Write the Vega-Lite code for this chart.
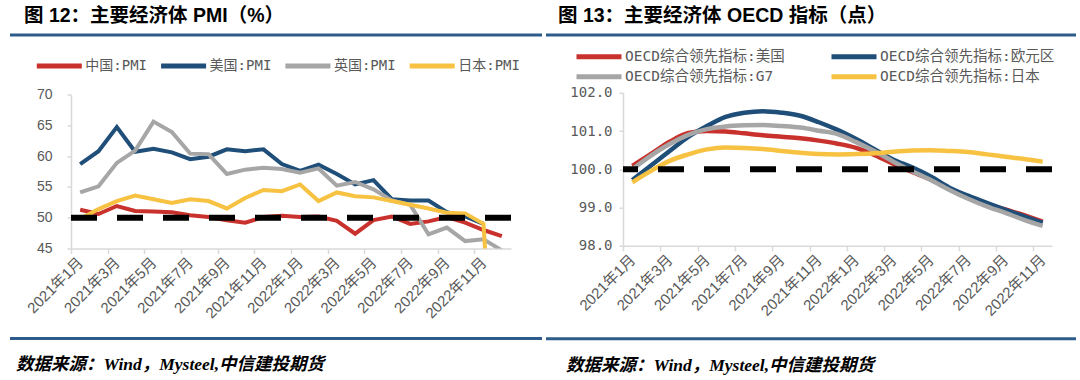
{
  "$schema": "https://vega.github.io/schema/vega-lite/v6.json",
  "background": "white",
  "padding": {"left": 8, "top": 6, "right": 0, "bottom": 0},
  "config": {
    "view": {"stroke": null},
    "font": "Liberation Sans, Noto Sans CJK SC",
    "axis": {"domainColor": "#D9D9D9", "tickColor": "#D9D9D9", "labelColor": "#595959", "grid": false, "domainWidth": 1.5, "tickWidth": 1.5, "title": null, "labelOverlap": false},
    "legend": {"labelLimit": 400},
    "title": {"color": "#000000"}
  },
  "datasets": {
    "pmi": [
      {"m":"2021年1月","s":"中国:PMI","v":51.3},{"m":"2021年2月","s":"中国:PMI","v":50.6},{"m":"2021年3月","s":"中国:PMI","v":51.9},{"m":"2021年4月","s":"中国:PMI","v":51.1},{"m":"2021年5月","s":"中国:PMI","v":51.0},{"m":"2021年6月","s":"中国:PMI","v":50.9},{"m":"2021年7月","s":"中国:PMI","v":50.4},{"m":"2021年8月","s":"中国:PMI","v":50.1},{"m":"2021年9月","s":"中国:PMI","v":49.6},{"m":"2021年10月","s":"中国:PMI","v":49.2},{"m":"2021年11月","s":"中国:PMI","v":50.1},{"m":"2021年12月","s":"中国:PMI","v":50.3},
      {"m":"2022年1月","s":"中国:PMI","v":50.1},{"m":"2022年2月","s":"中国:PMI","v":50.2},{"m":"2022年3月","s":"中国:PMI","v":49.5},{"m":"2022年4月","s":"中国:PMI","v":47.4},{"m":"2022年5月","s":"中国:PMI","v":49.6},{"m":"2022年6月","s":"中国:PMI","v":50.2},{"m":"2022年7月","s":"中国:PMI","v":49.0},{"m":"2022年8月","s":"中国:PMI","v":49.4},{"m":"2022年9月","s":"中国:PMI","v":50.1},{"m":"2022年10月","s":"中国:PMI","v":49.2},{"m":"2022年11月","s":"中国:PMI","v":48.0},{"m":"2022年12月","s":"中国:PMI","v":47.0},
      {"m":"2021年1月","s":"美国:PMI","v":58.7},{"m":"2021年2月","s":"美国:PMI","v":60.8},{"m":"2021年3月","s":"美国:PMI","v":64.7},{"m":"2021年4月","s":"美国:PMI","v":60.7},{"m":"2021年5月","s":"美国:PMI","v":61.2},{"m":"2021年6月","s":"美国:PMI","v":60.6},{"m":"2021年7月","s":"美国:PMI","v":59.5},{"m":"2021年8月","s":"美国:PMI","v":59.9},{"m":"2021年9月","s":"美国:PMI","v":61.1},{"m":"2021年10月","s":"美国:PMI","v":60.8},{"m":"2021年11月","s":"美国:PMI","v":61.1},{"m":"2021年12月","s":"美国:PMI","v":58.7},
      {"m":"2022年1月","s":"美国:PMI","v":57.6},{"m":"2022年2月","s":"美国:PMI","v":58.6},{"m":"2022年3月","s":"美国:PMI","v":57.1},{"m":"2022年4月","s":"美国:PMI","v":55.4},{"m":"2022年5月","s":"美国:PMI","v":56.1},{"m":"2022年6月","s":"美国:PMI","v":53.0},{"m":"2022年7月","s":"美国:PMI","v":52.8},{"m":"2022年8月","s":"美国:PMI","v":52.8},{"m":"2022年9月","s":"美国:PMI","v":50.9},{"m":"2022年10月","s":"美国:PMI","v":50.2},{"m":"2022年11月","s":"美国:PMI","v":49.0},
      {"m":"2021年1月","s":"英国:PMI","v":54.1},{"m":"2021年2月","s":"英国:PMI","v":55.1},{"m":"2021年3月","s":"英国:PMI","v":58.9},{"m":"2021年4月","s":"英国:PMI","v":60.9},{"m":"2021年5月","s":"英国:PMI","v":65.6},{"m":"2021年6月","s":"英国:PMI","v":63.9},{"m":"2021年7月","s":"英国:PMI","v":60.4},{"m":"2021年8月","s":"英国:PMI","v":60.3},{"m":"2021年9月","s":"英国:PMI","v":57.1},{"m":"2021年10月","s":"英国:PMI","v":57.8},{"m":"2021年11月","s":"英国:PMI","v":58.1},{"m":"2021年12月","s":"英国:PMI","v":57.9},
      {"m":"2022年1月","s":"英国:PMI","v":57.3},{"m":"2022年2月","s":"英国:PMI","v":58.0},{"m":"2022年3月","s":"英国:PMI","v":55.2},{"m":"2022年4月","s":"英国:PMI","v":55.8},{"m":"2022年5月","s":"英国:PMI","v":54.6},{"m":"2022年6月","s":"英国:PMI","v":52.8},{"m":"2022年7月","s":"英国:PMI","v":52.1},{"m":"2022年8月","s":"英国:PMI","v":47.3},{"m":"2022年9月","s":"英国:PMI","v":48.4},{"m":"2022年10月","s":"英国:PMI","v":46.2},{"m":"2022年11月","s":"英国:PMI","v":46.5},{"m":"2022年12月","s":"英国:PMI","v":44.7},
      {"m":"2021年1月","s":"日本:PMI","v":49.8},{"m":"2021年2月","s":"日本:PMI","v":51.4},{"m":"2021年3月","s":"日本:PMI","v":52.7},{"m":"2021年4月","s":"日本:PMI","v":53.6},{"m":"2021年5月","s":"日本:PMI","v":53.0},{"m":"2021年6月","s":"日本:PMI","v":52.4},{"m":"2021年7月","s":"日本:PMI","v":53.0},{"m":"2021年8月","s":"日本:PMI","v":52.7},{"m":"2021年9月","s":"日本:PMI","v":51.5},{"m":"2021年10月","s":"日本:PMI","v":53.2},{"m":"2021年11月","s":"日本:PMI","v":54.5},{"m":"2021年12月","s":"日本:PMI","v":54.3},
      {"m":"2022年1月","s":"日本:PMI","v":55.4},{"m":"2022年2月","s":"日本:PMI","v":52.7},{"m":"2022年3月","s":"日本:PMI","v":54.1},{"m":"2022年4月","s":"日本:PMI","v":53.5},{"m":"2022年5月","s":"日本:PMI","v":53.3},{"m":"2022年6月","s":"日本:PMI","v":52.7},{"m":"2022年7月","s":"日本:PMI","v":52.1},{"m":"2022年8月","s":"日本:PMI","v":51.5},{"m":"2022年9月","s":"日本:PMI","v":50.8},{"m":"2022年10月","s":"日本:PMI","v":50.7},{"m":"2022年11月","s":"日本:PMI","v":49.0},{"m":"2022年12月","s":"日本:PMI","v":0}
    ],
    "oecd": [
      {"m":"2021年1月","s":"OECD综合领先指标:美国","v":100.09},{"m":"2021年2月","s":"OECD综合领先指标:美国","v":100.40},{"m":"2021年3月","s":"OECD综合领先指标:美国","v":100.72},{"m":"2021年4月","s":"OECD综合领先指标:美国","v":100.95},{"m":"2021年5月","s":"OECD综合领先指标:美国","v":101.00},{"m":"2021年6月","s":"OECD综合领先指标:美国","v":100.99},{"m":"2021年7月","s":"OECD综合领先指标:美国","v":100.94},{"m":"2021年8月","s":"OECD综合领先指标:美国","v":100.89},{"m":"2021年9月","s":"OECD综合领先指标:美国","v":100.85},{"m":"2021年10月","s":"OECD综合领先指标:美国","v":100.81},{"m":"2021年11月","s":"OECD综合领先指标:美国","v":100.75},{"m":"2021年12月","s":"OECD综合领先指标:美国","v":100.67},
      {"m":"2022年1月","s":"OECD综合领先指标:美国","v":100.56},{"m":"2022年2月","s":"OECD综合领先指标:美国","v":100.37},{"m":"2022年3月","s":"OECD综合领先指标:美国","v":100.14},{"m":"2022年4月","s":"OECD综合领先指标:美国","v":99.93},{"m":"2022年5月","s":"OECD综合领先指标:美国","v":99.73},{"m":"2022年6月","s":"OECD综合领先指标:美国","v":99.50},{"m":"2022年7月","s":"OECD综合领先指标:美国","v":99.29},{"m":"2022年8月","s":"OECD综合领先指标:美国","v":99.10},{"m":"2022年9月","s":"OECD综合领先指标:美国","v":98.95},{"m":"2022年10月","s":"OECD综合领先指标:美国","v":98.80},{"m":"2022年11月","s":"OECD综合领先指标:美国","v":98.63},
      {"m":"2021年1月","s":"OECD综合领先指标:欧元区","v":99.72},{"m":"2021年2月","s":"OECD综合领先指标:欧元区","v":100.10},{"m":"2021年3月","s":"OECD综合领先指标:欧元区","v":100.48},{"m":"2021年4月","s":"OECD综合领先指标:欧元区","v":100.85},{"m":"2021年5月","s":"OECD综合领先指标:欧元区","v":101.13},{"m":"2021年6月","s":"OECD综合领先指标:欧元区","v":101.37},{"m":"2021年7月","s":"OECD综合领先指标:欧元区","v":101.48},{"m":"2021年8月","s":"OECD综合领先指标:欧元区","v":101.52},{"m":"2021年9月","s":"OECD综合领先指标:欧元区","v":101.48},{"m":"2021年10月","s":"OECD综合领先指标:欧元区","v":101.40},{"m":"2021年11月","s":"OECD综合领先指标:欧元区","v":101.23},{"m":"2021年12月","s":"OECD综合领先指标:欧元区","v":101.03},
      {"m":"2022年1月","s":"OECD综合领先指标:欧元区","v":100.79},{"m":"2022年2月","s":"OECD综合领先指标:欧元区","v":100.52},{"m":"2022年3月","s":"OECD综合领先指标:欧元区","v":100.25},{"m":"2022年4月","s":"OECD综合领先指标:欧元区","v":100.05},{"m":"2022年5月","s":"OECD综合领先指标:欧元区","v":99.81},{"m":"2022年6月","s":"OECD综合领先指标:欧元区","v":99.52},{"m":"2022年7月","s":"OECD综合领先指标:欧元区","v":99.31},{"m":"2022年8月","s":"OECD综合领先指标:欧元区","v":99.12},{"m":"2022年9月","s":"OECD综合领先指标:欧元区","v":98.94},{"m":"2022年10月","s":"OECD综合领先指标:欧元区","v":98.77},{"m":"2022年11月","s":"OECD综合领先指标:欧元区","v":98.60},
      {"m":"2021年1月","s":"OECD综合领先指标:G7","v":100.00},{"m":"2021年2月","s":"OECD综合领先指标:G7","v":100.36},{"m":"2021年3月","s":"OECD综合领先指标:G7","v":100.66},{"m":"2021年4月","s":"OECD综合领先指标:G7","v":100.90},{"m":"2021年5月","s":"OECD综合领先指标:G7","v":101.05},{"m":"2021年6月","s":"OECD综合领先指标:G7","v":101.12},{"m":"2021年7月","s":"OECD综合领先指标:G7","v":101.15},{"m":"2021年8月","s":"OECD综合领先指标:G7","v":101.16},{"m":"2021年9月","s":"OECD综合领先指标:G7","v":101.13},{"m":"2021年10月","s":"OECD综合领先指标:G7","v":101.09},{"m":"2021年11月","s":"OECD综合领先指标:G7","v":101.01},{"m":"2021年12月","s":"OECD综合领先指标:G7","v":100.92},
      {"m":"2022年1月","s":"OECD综合领先指标:G7","v":100.71},{"m":"2022年2月","s":"OECD综合领先指标:G7","v":100.47},{"m":"2022年3月","s":"OECD综合领先指标:G7","v":100.20},{"m":"2022年4月","s":"OECD综合领先指标:G7","v":99.95},{"m":"2022年5月","s":"OECD综合领先指标:G7","v":99.72},{"m":"2022年6月","s":"OECD综合领先指标:G7","v":99.46},{"m":"2022年7月","s":"OECD综合领先指标:G7","v":99.23},{"m":"2022年8月","s":"OECD综合领先指标:G7","v":99.03},{"m":"2022年9月","s":"OECD综合领先指标:G7","v":98.86},{"m":"2022年10月","s":"OECD综合领先指标:G7","v":98.68},{"m":"2022年11月","s":"OECD综合领先指标:G7","v":98.52},
      {"m":"2021年1月","s":"OECD综合领先指标:日本","v":99.66},{"m":"2021年2月","s":"OECD综合领先指标:日本","v":99.96},{"m":"2021年3月","s":"OECD综合领先指标:日本","v":100.22},{"m":"2021年4月","s":"OECD综合领先指标:日本","v":100.39},{"m":"2021年5月","s":"OECD综合领先指标:日本","v":100.52},{"m":"2021年6月","s":"OECD综合领先指标:日本","v":100.57},{"m":"2021年7月","s":"OECD综合领先指标:日本","v":100.56},{"m":"2021年8月","s":"OECD综合领先指标:日本","v":100.53},{"m":"2021年9月","s":"OECD综合领先指标:日本","v":100.48},{"m":"2021年10月","s":"OECD综合领先指标:日本","v":100.43},{"m":"2021年11月","s":"OECD综合领先指标:日本","v":100.40},{"m":"2021年12月","s":"OECD综合领先指标:日本","v":100.39},
      {"m":"2022年1月","s":"OECD综合领先指标:日本","v":100.40},{"m":"2022年2月","s":"OECD综合领先指标:日本","v":100.42},{"m":"2022年3月","s":"OECD综合领先指标:日本","v":100.46},{"m":"2022年4月","s":"OECD综合领先指标:日本","v":100.49},{"m":"2022年5月","s":"OECD综合领先指标:日本","v":100.50},{"m":"2022年6月","s":"OECD综合领先指标:日本","v":100.48},{"m":"2022年7月","s":"OECD综合领先指标:日本","v":100.45},{"m":"2022年8月","s":"OECD综合领先指标:日本","v":100.39},{"m":"2022年9月","s":"OECD综合领先指标:日本","v":100.33},{"m":"2022年10月","s":"OECD综合领先指标:日本","v":100.27},{"m":"2022年11月","s":"OECD综合领先指标:日本","v":100.20}
    ]
  },
  "spacing": 0,
  "resolve": {"scale": {"color": "independent"}},
  "hconcat": [
    {
      "spacing": 18.5,
      "resolve": {"scale": {"color": "independent"}},
      "vconcat": [
        {
          "width": 532, "height": 1,
          "title": {"text": "图 12：主要经济体 PMI（%）", "anchor": "start", "frame": "group", "fontSize": 19.5, "fontWeight": "bold", "offset": 7, "dx": 14},
          "data": {"values": [{}]},
          "mark": {"type": "rule", "color": "#2E5C8A", "strokeWidth": 3},
          "encoding": {"y": {"datum": 0, "type": "quantitative", "scale": {"domain": [0, 1]}, "axis": null}}
        },
        {
          "spacing": 15,
          "resolve": {"scale": {"color": "independent"}},
          "vconcat": [
            {
              "spacing": 0,
              "resolve": {"scale": {"color": "independent"}},
              "hconcat": [
                {"width": 13.7, "height": 154, "data": {"values": []}, "mark": "point"},
                {
                  "width": 440, "height": 154,
                  "layer": [
                    {
                      "data": {"name": "pmi"},
                      "mark": {"type": "line", "strokeWidth": 4, "clip": true},
                      "encoding": {
                        "x": {"field": "m", "type": "ordinal", "sort": null, "scale": {"type": "point", "padding": 0.5},
                          "axis": {"values": ["2021年1月","2021年3月","2021年5月","2021年7月","2021年9月","2021年11月","2022年1月","2022年3月","2022年5月","2022年7月","2022年9月","2022年11月"],
                            "labelAngle": -45, "labelAlign": "right", "labelBaseline": "middle", "tickOffset": -9.17, "labelOffset": 9.17, "tickSize": 5, "labelPadding": 6, "labelFontSize": 15, "labelFont": "Liberation Sans, Noto Sans CJK SC"}},
                        "y": {"field": "v", "type": "quantitative", "scale": {"domain": [45, 70], "nice": false, "zero": false},
                          "axis": {"values": [45, 50, 55, 60, 65, 70], "tickCount": 10, "labelOverlap": false, "tickSize": 4, "labelPadding": 15, "minExtent": 40, "labelFontSize": 14}},
                        "color": {"field": "s", "type": "nominal",
                          "scale": {"domain": ["中国:PMI", "美国:PMI", "英国:PMI", "日本:PMI"], "range": ["#C8312C", "#1F4E79", "#A6A6A6", "#F7C242"]},
                          "legend": {"orient": "none", "legendX": -21.7, "legendY": -38.6, "direction": "horizontal", "columns": 4, "title": null, "symbolType": "M-3,0H3", "symbolSize": 225, "symbolStrokeWidth": 5, "labelFont": "DejaVu Sans Mono, Noto Sans CJK SC", "labelFontSize": 14, "labelColor": "#595959", "columnPadding": 3.3, "labelOffset": 16, "padding": 0}}
                      }
                    },
                    {
                      "data": {"values": [{}]},
                      "mark": {"type": "rule", "color": "#000000", "strokeWidth": 6, "strokeDash": [26, 20]},
                      "encoding": {"y": {"datum": 50}}
                    }
                  ]
                }
              ]
            },
            {
              "width": 532, "height": 1,
              "title": {"text": "数据来源：Wind，Mysteel,中信建投期货", "orient": "bottom", "anchor": "start", "frame": "group", "font": "Liberation Serif, Noto Sans CJK SC", "fontSize": 17.5, "fontStyle": "italic", "fontWeight": "bold", "offset": 16, "dx": 6},
              "data": {"values": [{}]},
              "mark": {"type": "rule", "color": "#2E5C8A", "strokeWidth": 3},
              "encoding": {"y": {"datum": 1, "type": "quantitative", "scale": {"domain": [0, 1]}, "axis": null}}
            }
          ]
        }
      ]
    },
    {
      "spacing": 9.8,
      "resolve": {"scale": {"color": "independent"}},
      "vconcat": [
        {
          "width": 530, "height": 1,
          "title": {"text": "图 13：主要经济体 OECD 指标（点）", "anchor": "start", "frame": "group", "fontSize": 19.5, "fontWeight": "bold", "offset": 7, "dx": 12},
          "data": {"values": [{}]},
          "mark": {"type": "rule", "color": "#2E5C8A", "strokeWidth": 3},
          "encoding": {"y": {"datum": 0, "type": "quantitative", "scale": {"domain": [0, 1]}, "axis": null}}
        },
        {
          "spacing": 18,
          "resolve": {"scale": {"color": "independent"}},
          "vconcat": [
            {
              "spacing": 0,
              "resolve": {"scale": {"color": "independent"}},
              "hconcat": [
                {"width": 16.5, "height": 153, "data": {"values": []}, "mark": "point"},
                {
                  "width": 429, "height": 153,
                  "layer": [
                    {
                      "data": {"name": "oecd"},
                      "mark": {"type": "line", "strokeWidth": 4.5, "interpolate": "monotone", "clip": true},
                      "encoding": {
                        "x": {"field": "m", "type": "ordinal", "sort": null, "scale": {"type": "point", "padding": 0.5},
                          "axis": {"values": ["2021年1月","2021年3月","2021年5月","2021年7月","2021年9月","2021年11月","2022年1月","2022年3月","2022年5月","2022年7月","2022年9月","2022年11月"],
                            "labelAngle": -45, "labelAlign": "right", "labelBaseline": "middle", "tickOffset": -9.33, "labelOffset": 9.33, "tickSize": 5, "labelPadding": 6, "labelFontSize": 15, "labelFont": "Liberation Sans, Noto Sans CJK SC"}},
                        "y": {"field": "v", "type": "quantitative", "scale": {"domain": [98, 102], "nice": false, "zero": false},
                          "axis": {"values": [98, 99, 100, 101, 102], "tickCount": 10, "labelOverlap": false, "format": ".1f", "tickSize": 4, "labelPadding": 7, "minExtent": 60, "labelFontSize": 14, "labelFont": "DejaVu Sans Mono"}},
                        "color": {"field": "s", "type": "nominal",
                          "scale": {"domain": ["OECD综合领先指标:美国", "OECD综合领先指标:欧元区", "OECD综合领先指标:G7", "OECD综合领先指标:日本"], "range": ["#C8312C", "#1F4E79", "#A6A6A6", "#F7C242"]},
                          "legend": {"orient": "none", "legendX": -34, "legendY": -46, "direction": "horizontal", "columns": 2, "title": null, "symbolType": "M-3,0H3", "symbolSize": 225, "symbolStrokeWidth": 5, "labelFont": "DejaVu Sans Mono, Noto Sans CJK SC", "labelFontSize": 14.5, "labelColor": "#595959", "columnPadding": 36, "rowPadding": 0, "labelOffset": 16, "padding": 0}}
                      }
                    },
                    {
                      "data": {"values": [{}]},
                      "mark": {"type": "rule", "color": "#000000", "strokeWidth": 6, "strokeDash": [26, 20]},
                      "encoding": {"y": {"datum": 100}}
                    }
                  ]
                }
              ]
            },
            {
              "width": 530, "height": 1,
              "title": {"text": "数据来源：Wind，Mysteel,中信建投期货", "orient": "bottom", "anchor": "start", "frame": "group", "font": "Liberation Serif, Noto Sans CJK SC", "fontSize": 17.5, "fontStyle": "italic", "fontWeight": "bold", "offset": 17, "dx": 20},
              "data": {"values": [{}]},
              "mark": {"type": "rule", "color": "#2E5C8A", "strokeWidth": 3},
              "encoding": {"y": {"datum": 1, "type": "quantitative", "scale": {"domain": [0, 1]}, "axis": null}}
            }
          ]
        }
      ]
    }
  ]
}
